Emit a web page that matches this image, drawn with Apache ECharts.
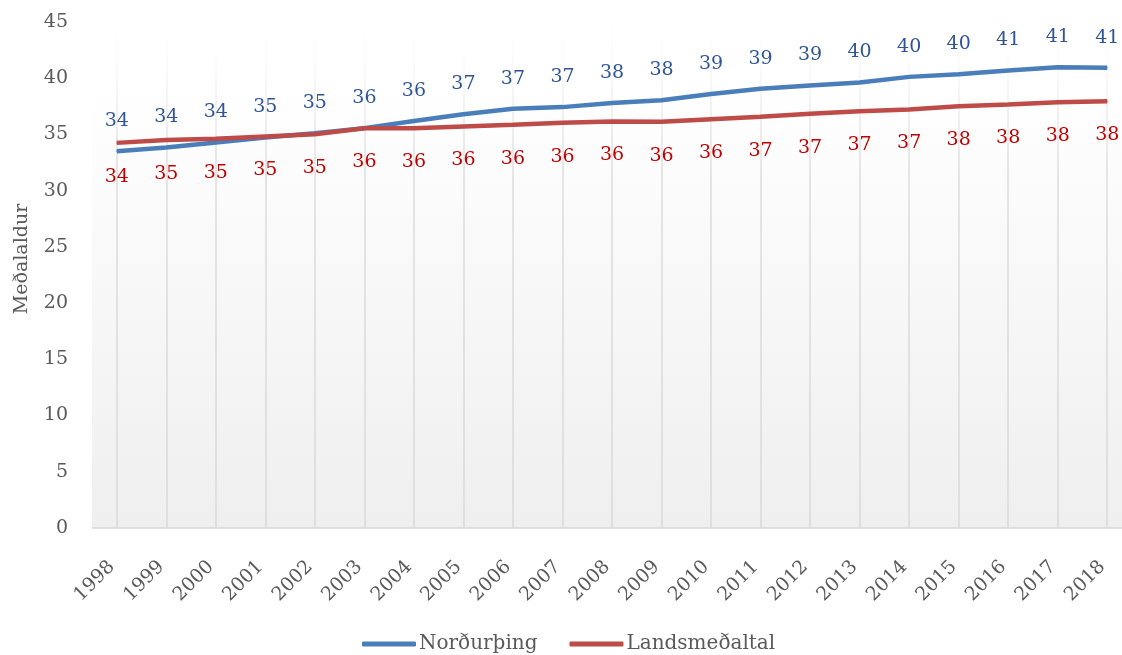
<!DOCTYPE html>
<html>
<head>
<meta charset="utf-8">
<script src="https://cdn.jsdelivr.net/npm/echarts@6/dist/echarts.min.js"></script>
<style>html,body{margin:0;padding:0;background:#fff}#c{width:1122px;height:655px}</style>
</head>
<body>
<div id="c"></div>
<script>
const years = ['1998','1999','2000','2001','2002','2003','2004','2005','2006','2007','2008','2009','2010','2011','2012','2013','2014','2015','2016','2017','2018'];
const nordurthing = [33.5,33.84,34.29,34.73,35.1,35.56,36.2,36.8,37.28,37.43,37.8,38.04,38.6,39.06,39.35,39.62,40.12,40.36,40.69,40.98,40.93];
const landsmedaltal = [34.25,34.5,34.61,34.82,35.02,35.56,35.55,35.71,35.86,36.03,36.15,36.12,36.36,36.57,36.83,37.07,37.22,37.5,37.66,37.87,37.96];
const seriesNames = ['Norðurþing','Landsmeðaltal'];
const yTicks = {min:0, max:45, interval:5};

const FONT = 'DejaVu Serif';
const chart = echarts.init(document.getElementById('c'), null, {renderer:'canvas'});
chart.setOption({
  animation:false,
  textStyle:{fontFamily:FONT},
  grid:{left:92, top:22, width:1040, height:506, show:true, borderWidth:0, containLabel:false, outerBoundsMode:'none',
    backgroundColor:{type:'linear',x:0,y:0,x2:0,y2:1,colorStops:[{offset:0,color:'#ffffff'},{offset:0.12,color:'#ffffff'},{offset:1,color:'#efefef'}]}},
  legend:{top:629, left:357, itemWidth:54, itemHeight:5, itemGap:32,
    textStyle:{fontFamily:FONT, fontSize:20, color:'#595959', padding:[0,0,0,-2]},
    icon:'roundRect',
    data:seriesNames},
  xAxis:{type:'category', data:years, boundaryGap:true,
    axisLine:{show:true, lineStyle:{color:'#d9d9d9', width:1.5}},
    axisTick:{show:false},
    splitLine:{show:true, alignWithLabel:true, lineStyle:{width:1.5,
      color:{type:'linear', x:0, y:22, x2:0, y2:528, global:true,
        colorStops:[{offset:0,color:'rgba(217,217,217,0)'},{offset:0.08,color:'rgba(217,217,217,0.15)'},{offset:0.3,color:'rgba(217,217,217,0.9)'},{offset:1,color:'#d9d9d9'}]}}},
    axisLabel:{rotate:45, fontFamily:FONT, fontSize:19, color:'#595959', margin:31, padding:[0,7,0,0], interval:0}},
  yAxis:{type:'value', min:yTicks.min, max:yTicks.max, interval:yTicks.interval,
    name:'Meðalaldur', nameLocation:'middle', nameGap:60, nameMoveOverlap:false,
    nameTextStyle:{fontFamily:FONT, fontSize:19, color:'#595959', padding:[0,0,0,32]},
    axisLine:{show:false}, axisTick:{show:false}, splitLine:{show:false},
    axisLabel:{fontFamily:FONT, fontSize:19, color:'#595959', margin:24}},
  series:[
    {name:seriesNames[0], type:'line', data:nordurthing, symbol:'circle', symbolSize:1, showSymbol:true,
      lineStyle:{color:'#4a7ebb', width:4.5}, itemStyle:{color:'#4a7ebb'},
      label:{show:true, position:'top', distance:20, fontFamily:FONT, fontSize:19, color:'#2f5597',
        formatter:p=>Math.round(p.value)}},
    {name:seriesNames[1], type:'line', data:landsmedaltal, symbol:'circle', symbolSize:1, showSymbol:true,
      lineStyle:{color:'#be4b48', width:4.5}, itemStyle:{color:'#be4b48'},
      label:{show:true, position:'bottom', distance:24, fontFamily:FONT, fontSize:19, color:'#c00000',
        formatter:p=>Math.round(p.value)}}
  ]
});
</script>
</body>
</html>
